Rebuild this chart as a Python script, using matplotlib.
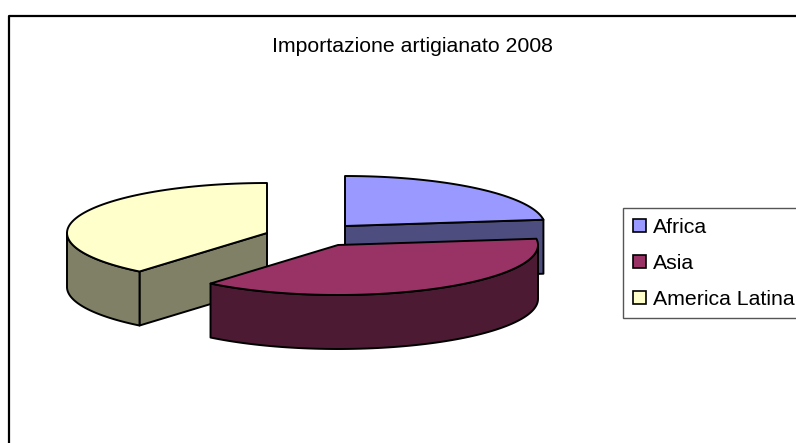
import numpy as np
import matplotlib
matplotlib.use('Agg')
import matplotlib.pyplot as plt
from matplotlib.patches import Patch

plt.rcParams['font.family'] = ['Liberation Sans', 'DejaVu Sans']

title = 'Importazione artigianato 2008'
labels = ['Africa', 'Asia', 'America Latina']
values = [23, 38, 39]
top_colors = ['#9999FF', '#993366', '#FFFFCC']
wall_colors = ['#4D4D80', '#4D1A33', '#808066']

# pie geometry, in pixels
centers = [(345, 226), (338, 245), (267, 233)]
rx = 200
ry = 50
depth = 54


def ell(c, t):
    t = np.radians(t)
    return c[0] + rx * np.sin(t), c[1] - ry * np.cos(t)


def wall(ax, c, x, y, color):
    xs = np.concatenate([x, x[::-1]])
    ys = np.concatenate([y, y[::-1] + depth])
    ax.fill(xs, ys, facecolor=color, edgecolor='black', lw=1.4, joinstyle='round')


fig = plt.figure(figsize=(7.96, 4.43), dpi=100)
ax = fig.add_axes([0, 0, 1, 1])
ax.set_xlim(0, 796)
ax.set_ylim(443, 0)
ax.axis('off')

# chart frame runs off the right and bottom of the picture
ax.plot([9, 9, 800], [447, 16, 16], color='black', lw=1.6)

ends = np.cumsum(values) / np.sum(values) * 360
starts = np.concatenate([[0], ends[:-1]])

# back to front: Africa, America Latina, Asia
for i in [0, 2, 1]:
    c = centers[i]
    a, b = starts[i], ends[i]
    t = np.linspace(a, b, 80)
    ex, ey = ell(c, t)

    # straight cut faces that look to the front
    if i == 0:
        wall(ax, c, np.array([c[0], ex[-1]]), np.array([c[1], ey[-1]]), wall_colors[i])
    if i == 2:
        wall(ax, c, np.array([ex[0], c[0]]), np.array([ey[0], c[1]]), wall_colors[i])

    # curved outer wall, only the part on the near side
    lo = max(a, 90)
    hi = min(b, 270)
    if hi > lo:
        wx, wy = ell(c, np.linspace(lo, hi, 80))
        wall(ax, c, wx, wy, wall_colors[i])

    ax.fill(np.r_[c[0], ex], np.r_[c[1], ey], facecolor=top_colors[i],
            edgecolor='black', lw=1.4, joinstyle='round')

ax.text(412, 46, title, ha='center', va='center', fontsize=15.3, color='black')

handles = [Patch(facecolor=top_colors[i], edgecolor='black', lw=1.2) for i in range(3)]
ax.legend(handles, labels, loc='upper left', bbox_to_anchor=(623 / 796, 1 - 208 / 443),
          bbox_transform=ax.transAxes, borderaxespad=0, fontsize=15.3, frameon=True,
          fancybox=False, framealpha=1, edgecolor='#555555', handlelength=0.61,
          handleheight=0.57, handletextpad=0.34, labelspacing=0.8, borderpad=0.45)

fig.savefig('out.png', dpi=100)
